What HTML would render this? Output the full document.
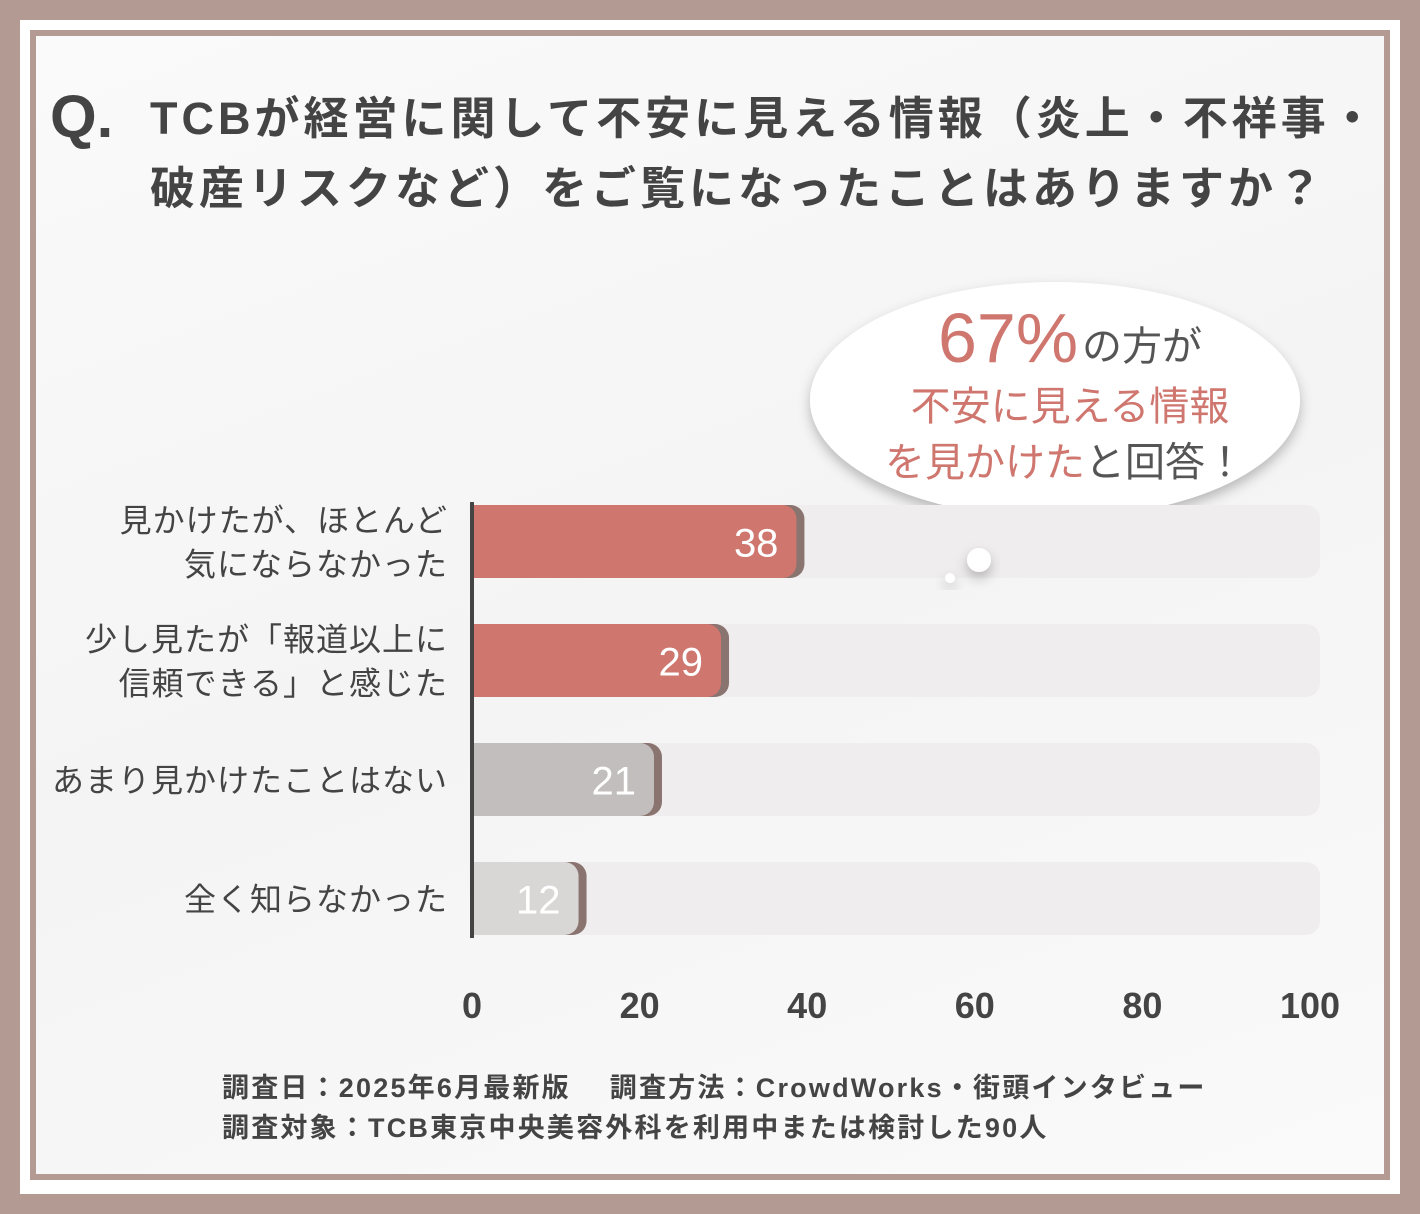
<!DOCTYPE html>
<html><head><meta charset="utf-8"><style>
body{margin:0;width:1420px;height:1214px;overflow:hidden;background:#b39a92;font-family:"Liberation Sans","Noto Sans CJK JP",sans-serif;}
#wrap{position:absolute;left:20px;top:20px;width:1380px;height:1174px;background:#fff;}
#inner{position:absolute;left:30px;top:30px;width:1360px;height:1150px;border:6px solid #b39a92;box-sizing:border-box;background:linear-gradient(160deg,#fafafa,#f4f4f4 50%,#fafafa);}
.t{position:absolute;color:#444;white-space:nowrap;}
</style></head><body>
<div id="wrap"></div>
<div id="inner"></div>
<div class="t" style="left:50px;top:82px;font-size:60px;font-weight:bold;">Q.</div>
<div class="t" style="left:150px;top:84px;font-size:45px;font-weight:bold;line-height:70px;letter-spacing:4px;">TCBが経営に関して不安に見える情報（炎上・不祥事・<br>破産リスクなど）をご覧になったことはありますか？</div>
<svg id="chart" width="1420" height="1214" style="position:absolute;left:0;top:0">
<defs><filter id="sh" x="-20%" y="-20%" width="140%" height="140%"><feDropShadow dx="0" dy="6" stdDeviation="6" flood-color="#000" flood-opacity="0.25"/></filter></defs>
<g filter="url(#sh)">
<ellipse cx="1055" cy="400" rx="245" ry="118" fill="#fff"/>
<path d="M990 500 L1025 540 L1060 500 Z" fill="#fff"/>
</g>
<text x="938" y="362" font-size="70" fill="#cf766f">67%</text>
<text x="1082" y="360" font-size="40" fill="#555">の方が</text>
<text x="1070" y="420" font-size="40" fill="#cf766f" text-anchor="middle">不安に見える情報</text>
<text x="1065" y="476" font-size="40" text-anchor="middle"><tspan fill="#cf766f">を見かけた</tspan><tspan fill="#555">と回答！</tspan></text>
<g id="bars"></g>
<g filter="url(#sh)"><circle cx="979" cy="560" r="12" fill="#fff"/><circle cx="950" cy="578" r="5" fill="#fff"/></g>
<line x1="472" y1="502" x2="472" y2="938" stroke="#444" stroke-width="4"/>
<g id="ticks"></g>
</svg>
<div class="t" style="left:222px;top:1068px;font-size:27px;font-weight:bold;line-height:40px;letter-spacing:2.2px;">調査日：2025年6月最新版　 調査方法：CrowdWorks・街頭インタビュー<br>調査対象：TCB東京中央美容外科を利用中または検討した90人</div>
<script>
const categories=["見かけたが、ほとんど|気にならなかった","少し見たが「報道以上に|信頼できる」と感じた","あまり見かけたことはない","全く知らなかった"];
const values=[38,29,21,12];
const colors=["#cf766f","#cf766f","#c2bebd","#d9d6d6"];
const tickValues=[0,20,40,60,80,100];
const NS="http://www.w3.org/2000/svg";
const x0=472,scale=8.38,y0=505,pitch=119,bh=73;
const xs=v=>x0+v*scale;
const bars=document.getElementById('bars'),ticks=document.getElementById('ticks');
function mk(t,a,p){const e=document.createElementNS(NS,t);for(const k in a)e.setAttribute(k,a[k]);p.appendChild(e);return e;}
values.forEach((v,i)=>{
 const y=y0+i*pitch;
 const tr=mk('rect',{x:x0,y:y,width:xs(100)-x0+10,height:bh,rx:14,fill:'#efeded'},bars);
 
 
 const s=mk('rect',{x:x0,y:y,width:xs(v)-x0+14,height:bh,rx:14,fill:'#8a7470'},bars);
 
 
 const b=mk('rect',{x:x0,y:y,width:xs(v)-x0+6,height:bh,rx:14,fill:colors[i]},bars);
 
 
 mk('rect',{x:x0,y:y,width:30,height:bh,fill:colors[i]},bars);
 const lt=mk('text',{x:xs(v)-12,y:y+bh/2+15,'font-size':40,fill:'#fff','text-anchor':'end'},bars);
 lt.textContent=v;
 
 
 const lines=categories[i].split('|');
 lines.forEach((ln,j)=>{
  const ty=y+bh/2+12+(j-(lines.length-1)/2)*44;
  const c=mk('text',{x:448,y:ty,'font-size':32,fill:'#444','text-anchor':'end','letter-spacing':1},bars);
  c.textContent=ln;
  
  
 });
});
tickValues.forEach(t=>{
 const e=mk('text',{x:xs(t),y:1018,'font-size':36,'font-weight':'bold',fill:'#444','text-anchor':'middle'},ticks);
 e.textContent=t;
 
 
});
</script>
</body></html>
